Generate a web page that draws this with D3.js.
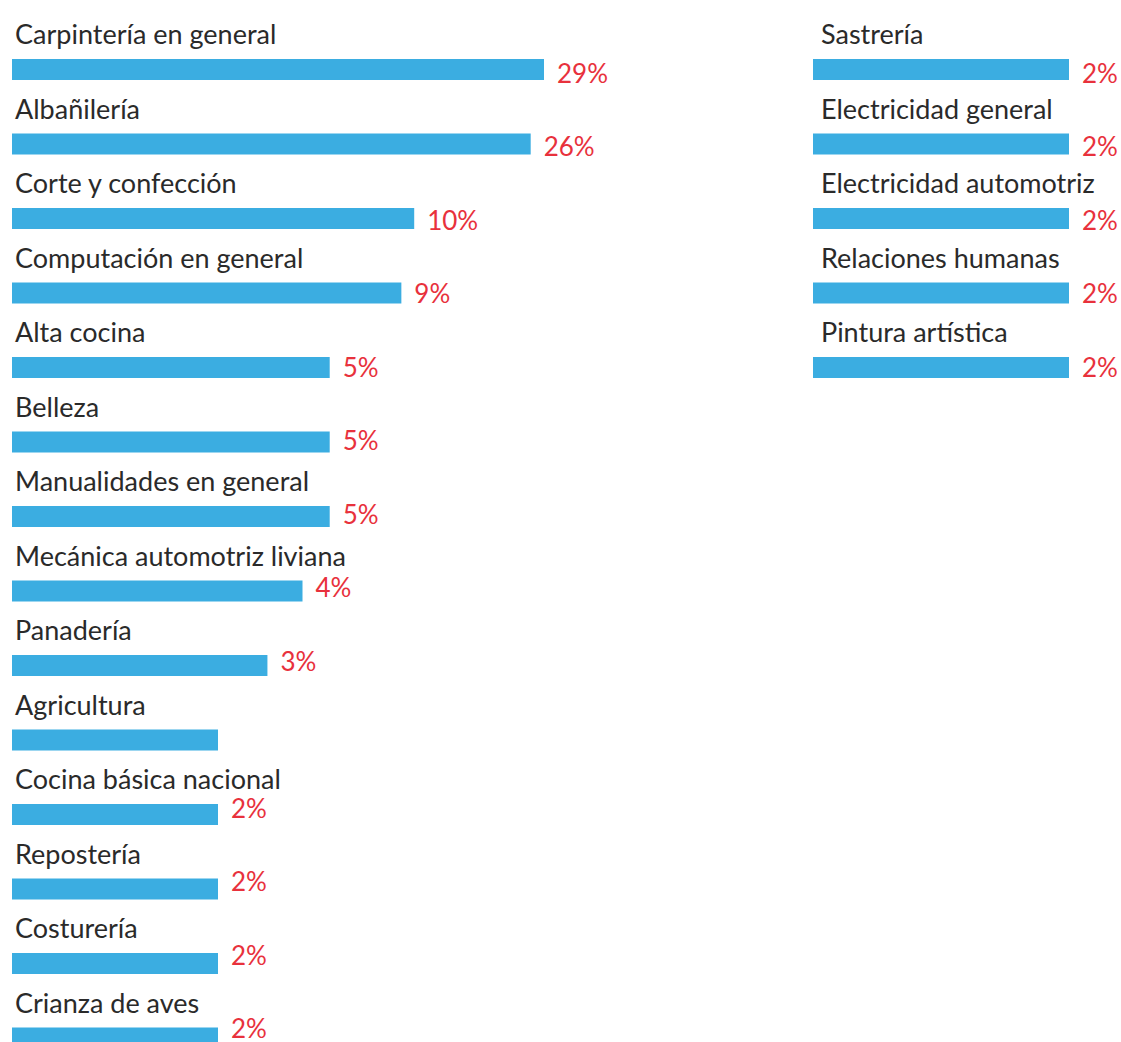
<!DOCTYPE html>
<html>
<head>
<meta charset="utf-8">
<script src="https://cdn.jsdelivr.net/npm/d3@7"></script>
<style>
  body { margin: 0; background: #fff; }
  text { font-family: Lato, "Open Sans", sans-serif; }
</style>
</head>
<body>
<script>
const width = 1121
const height = 1042

// left column
const leftCats = [
  'Carpintería en general', 'Albañilería', 'Corte y confección',
  'Computación en general', 'Alta cocina', 'Belleza',
  'Manualidades en general', 'Mecánica automotriz liviana', 'Panadería',
  'Agricultura', 'Cocina básica nacional', 'Repostería', 'Costurería',
  'Crianza de aves'
]
const leftValues = [29, 26, 10, 9, 5, 5, 5, 4, 3, 2, 2, 2, 2, 2]

// right column
const rightCats = [
  'Sastrería', 'Electricidad general', 'Electricidad automotriz',
  'Relaciones humanas', 'Pintura artística'
]
const rightValues = [2, 2, 2, 2, 2]

// the original leaves this one without a percentage
const unlabeled = ['Agricultura']

const svg = d3.select('body').append('svg')
  .attr('width', width)
  .attr('height', height)

const step = 74.5

const yLeft = d3.scaleBand()
  .domain(leftCats)
  .range([22, 22 + step * leftCats.length])

const yRight = d3.scaleBand()
  .domain(rightCats)
  .range([22, 22 + step * rightCats.length])

// the percentages drift up a little against the bars as you go down
const pctY = d3.scaleLinear().domain([0, 13]).range([83, 1038])

// bar lengths in the original grow roughly with the log of the share
const xLeft = d3.scaleLog().domain([2, 29]).range([206, 532])
const xRight = d3.scaleLog().domain([2, 29]).range([256, 582])

function column (cats, values, y, x, x0, labelDx) {
  const rows = cats.map((c, i) => ({ cat: c, value: values[i], i: i }))
  const col = svg.append('g')

  const g = col.selectAll('g')
    .data(rows)
    .enter()
    .append('g')
    .attr('transform', (d) => `translate(0,${y(d.cat)})`)

  g.append('text')
    .attr('x', x0 + labelDx)
    .attr('y', 22)
    .attr('fill', '#2a2a2a')
    .style('font-size', '27px')
    .text((d) => d.cat)

  g.append('rect')
    .attr('x', x0)
    .attr('y', 37)
    .attr('width', (d) => x(d.value))
    .attr('height', 21)
    .attr('fill', '#3badE1')

  col.selectAll('text.pct')
    .data(rows.filter((d) => !unlabeled.includes(d.cat)))
    .enter()
    .append('text')
    .attr('class', 'pct')
    .attr('x', (d) => x0 + x(d.value) + 13)
    .attr('y', (d) => pctY(d.i))
    .attr('fill', '#e8313c')
    .style('font-size', '26px')
    .text((d) => d.value + '%')
}

column(leftCats, leftValues, yLeft, xLeft, 12, 3)
column(rightCats, rightValues, yRight, xRight, 813, 8)
</script>
</body>
</html>
